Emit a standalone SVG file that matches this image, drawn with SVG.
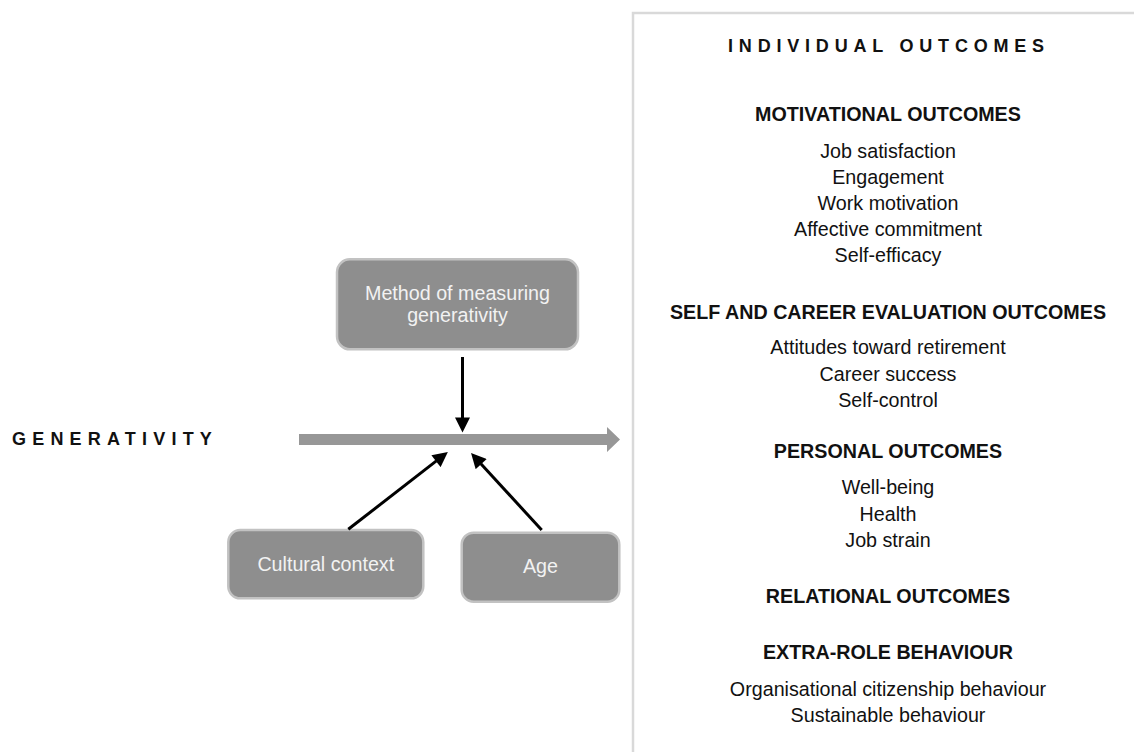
<svg xmlns="http://www.w3.org/2000/svg" width="1134" height="752" viewBox="0 0 1134 752">
<style>
.box{fill:#8e8e8e;stroke:#c2c2c2;stroke-width:2.5}
.bt{font-family:"Liberation Sans",Arial,sans-serif;font-size:19.7px;fill:#f2f2f2;text-anchor:middle}
.h{font-family:"Liberation Sans",Arial,sans-serif;font-size:19.7px;font-weight:bold;fill:#111;text-anchor:middle}
.t{font-family:"Liberation Sans",Arial,sans-serif;font-size:19.7px;fill:#111;text-anchor:middle}
.sp{font-family:"Liberation Sans",Arial,sans-serif;font-size:18px;font-weight:bold;fill:#111;letter-spacing:6.2px}
.con{stroke:#000;stroke-width:3;fill:none}
</style>
<defs>
<marker id="ah" markerUnits="userSpaceOnUse" markerWidth="16" markerHeight="15" viewBox="0 0 15 15" refX="0.5" refY="7.5" orient="auto">
<path d="M0,0 L15,7.5 L0,15 z" fill="#000"/>
</marker>
</defs>
<rect width="1134" height="752" fill="#fff"/>
<g id="panel">
<path d="M633,752 V13 H1134" fill="none" stroke="#d9d9d9" stroke-width="2.5"/>
<text class="sp" x="889" y="52" text-anchor="middle" style="letter-spacing:5.8px">INDIVIDUAL OUTCOMES</text>
<text class="h" x="888" y="120.5">MOTIVATIONAL OUTCOMES</text>
<text class="t" x="888" y="157.5">Job satisfaction</text>
<text class="t" x="888" y="183.5">Engagement</text>
<text class="t" x="888" y="209.5">Work motivation</text>
<text class="t" x="888" y="235.5">Affective commitment</text>
<text class="t" x="888" y="261.5">Self-efficacy</text>
<text class="h" x="888" y="319.3">SELF AND CAREER EVALUATION OUTCOMES</text>
<text class="t" x="888" y="354">Attitudes toward retirement</text>
<text class="t" x="888" y="380.7">Career success</text>
<text class="t" x="888" y="407.3">Self-control</text>
<text class="h" x="888" y="457.7">PERSONAL OUTCOMES</text>
<text class="t" x="888" y="494.3">Well-being</text>
<text class="t" x="888" y="521">Health</text>
<text class="t" x="888" y="546.7">Job strain</text>
<text class="h" x="888" y="603.3">RELATIONAL OUTCOMES</text>
<text class="h" x="888" y="659.3">EXTRA-ROLE BEHAVIOUR</text>
<text class="t" x="888" y="696">Organisational citizenship behaviour</text>
<text class="t" x="888" y="721.7">Sustainable behaviour</text>
</g>
<g id="generativity">
<text class="sp" x="12" y="445">GENERATIVITY</text>
<polygon points="299,434 607,434 607,427 620,439.5 607,452 607,445 299,445" fill="#979797"/>
</g>
<g id="method">
<rect class="box" x="337" y="259.3" width="241" height="90" rx="13"/>
<text class="bt" x="457.5" y="300">Method of measuring</text>
<text class="bt" x="457.5" y="321.7">generativity</text>
</g>
<g id="cultural">
<rect class="box" x="228.3" y="530" width="195" height="68.3" rx="12"/>
<text class="bt" x="325.8" y="571">Cultural context</text>
</g>
<g id="age">
<rect class="box" x="461.7" y="532.7" width="157.6" height="69" rx="12"/>
<text class="bt" x="540.5" y="572.7">Age</text>
</g>
<g id="connectors">
<line class="con" x1="462.5" y1="357" x2="462.5" y2="418" marker-end="url(#ah)"/>
<line class="con" x1="348.3" y1="529.3" x2="436.4" y2="460.9" marker-end="url(#ah)"/>
<line class="con" x1="541.7" y1="530" x2="480.85" y2="463.75" marker-end="url(#ah)"/>
</g>
</svg>
